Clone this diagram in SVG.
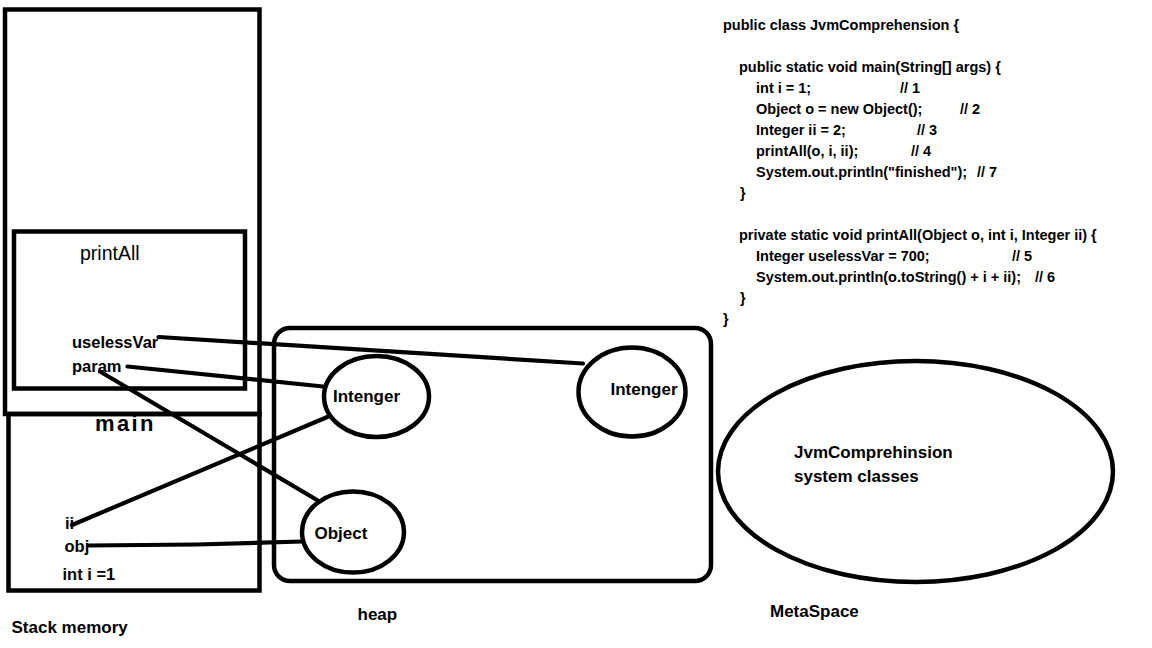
<svg xmlns="http://www.w3.org/2000/svg" width="1152" height="648" viewBox="0 0 1152 648">
<style>
  .frame { fill: none; stroke: #000; stroke-width: 4.5; }
  .conn { fill: none; stroke: #000; stroke-width: 4.2; stroke-linecap: round; stroke-linejoin: round; }
  .t { font-family: "Liberation Sans", Arial, sans-serif; font-weight: bold; fill: #000; }
  .lbl { font-size: 17px; }
  .var { font-size: 16.5px; }
  .code { font-size: 14.5px; }
</style>
<rect x="0" y="0" width="1152" height="648" fill="#fff"/>

<g id="stack">
  <rect class="frame" x="5" y="9.5" width="254.5" height="404.5"/>
  <text class="t lbl" x="11.5" y="633">Stack memory</text>
</g>

<g id="main-frame">
  <rect class="frame" x="8.5" y="414" width="251" height="176.5"/>
  <text class="t" x="95" y="430.5" font-size="22" letter-spacing="2.4">main</text>
  <text class="t var" x="65" y="528.5">ii</text>
  <text class="t var" x="64.5" y="551.5">obj</text>
  <text class="t var" x="62.5" y="580">int i =1</text>
</g>

<g id="printAll-frame">
  <rect class="frame" x="14" y="231.5" width="231" height="157"/>
  <text x="80" y="259.5" font-family="Liberation Sans, Arial, sans-serif" font-size="19.5" fill="#000">printAll</text>
  <text class="t var" x="72" y="347.5">uselessVar</text>
  <text class="t var" x="72" y="371.5">param</text>
</g>

<g id="heap">
  <rect class="frame" x="274" y="328" width="437" height="253" rx="16" ry="16"/>
  <text class="t lbl" x="357.5" y="619.5">heap</text>
</g>

<g id="integer-param">
  <ellipse class="frame" cx="376.5" cy="396.5" rx="52.5" ry="40.5"/>
  <text class="t lbl" x="333" y="401.5">Intenger</text>
</g>

<g id="integer-useless">
  <ellipse class="frame" cx="632" cy="392" rx="53.5" ry="44.5"/>
  <text class="t lbl" x="610.5" y="395">Intenger</text>
</g>

<g id="object">
  <ellipse class="frame" cx="353" cy="532" rx="51" ry="40.5"/>
  <text class="t lbl" x="314.5" y="538.5">Object</text>
</g>

<g id="metaspace">
  <ellipse class="frame" cx="915.5" cy="471.5" rx="197.5" ry="110.5"/>
  <text class="t lbl" x="794" y="458">JvmComprehinsion</text>
  <text class="t lbl" x="794" y="481.5">system classes</text>
  <text class="t lbl" x="770" y="616.5">MetaSpace</text>
</g>

<g id="connectors">
  <line class="conn" x1="158.5" y1="337" x2="583" y2="363.5"/>
  <line class="conn" x1="127.5" y1="366.5" x2="323" y2="386.5"/>
  <line class="conn" x1="100" y1="371.5" x2="317" y2="500"/>
  <line class="conn" x1="72" y1="525" x2="328.5" y2="416.5"/>
  <polyline class="conn" points="88.5,545.5 197,544.5 302,541.5"/>
</g>

<g id="code">
  <text class="t code" x="723" y="30">public class JvmComprehension {</text>
  <text class="t code" x="739" y="72">public static void main(String[] args) {</text>
  <text class="t code" y="93"><tspan x="756">int i = 1;</tspan><tspan x="900">// 1</tspan></text>
  <text class="t code" y="114"><tspan x="756">Object o = new Object();</tspan><tspan x="960">// 2</tspan></text>
  <text class="t code" y="135"><tspan x="756">Integer ii = 2;</tspan><tspan x="917">// 3</tspan></text>
  <text class="t code" y="156"><tspan x="756">printAll(o, i, ii);</tspan><tspan x="911">// 4</tspan></text>
  <text class="t code" y="177"><tspan x="756">System.out.println("finished");</tspan><tspan x="977">// 7</tspan></text>
  <text class="t code" x="740" y="198">}</text>
  <text class="t code" x="739" y="239.5">private static void printAll(Object o, int i, Integer ii) {</text>
  <text class="t code" y="261"><tspan x="756">Integer uselessVar = 700;</tspan><tspan x="1012">// 5</tspan></text>
  <text class="t code" y="282"><tspan x="756">System.out.println(o.toString() + i + ii);</tspan><tspan x="1035">// 6</tspan></text>
  <text class="t code" x="740" y="303">}</text>
  <text class="t code" x="723" y="324">}</text>
</g>
</svg>
